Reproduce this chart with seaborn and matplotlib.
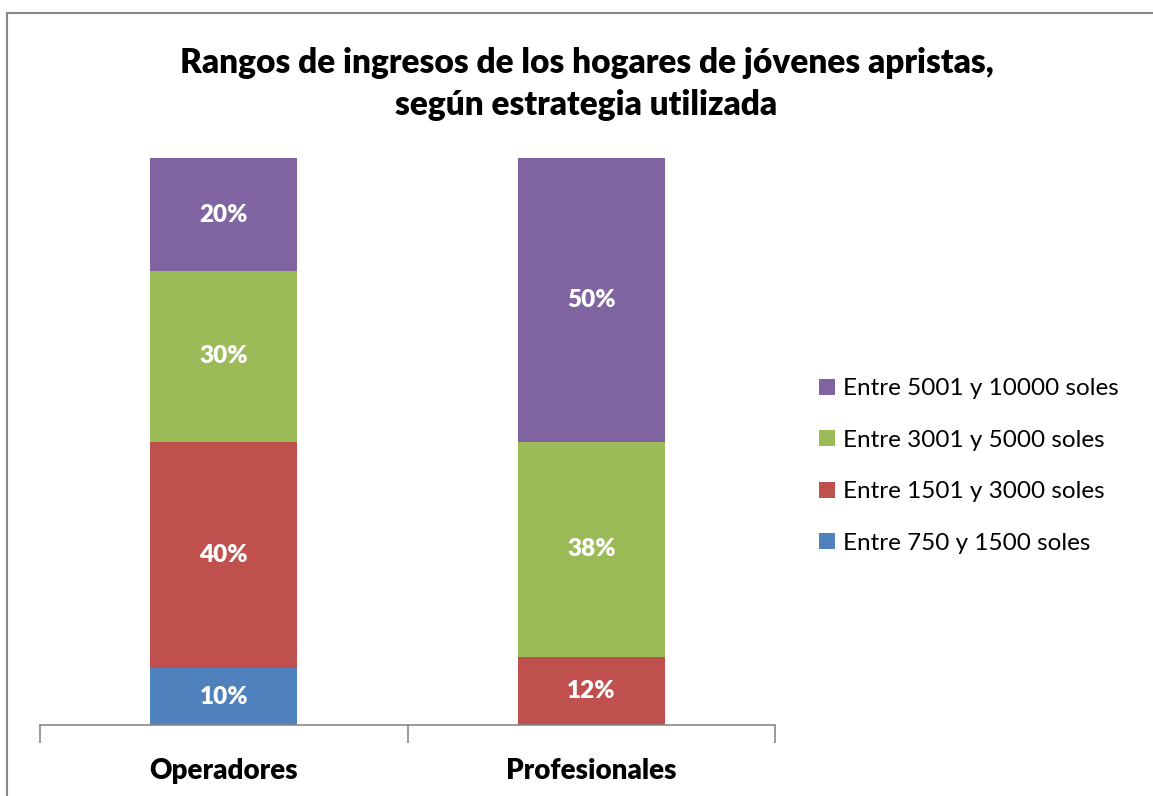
import matplotlib
matplotlib.use("Agg")
import matplotlib.pyplot as plt
import seaborn as sns
import pandas as pd
import numpy as np
from matplotlib.patches import Rectangle, Patch

categories = ["Operadores", "Profesionales"]
series_names = ["Entre 750 y 1500 soles", "Entre 1501 y 3000 soles",
                "Entre 3001 y 5000 soles", "Entre 5001 y 10000 soles"]
v_750_1500 = [10, 0]
v_1501_3000 = [40, 12]
v_3001_5000 = [30, 38]
v_5001_10000 = [20, 50]
colors = ["#4F81BD", "#C0504D", "#9BBB59", "#8064A2"]
title = "Rangos de ingresos de los hogares de jóvenes apristas,\nsegún estrategia utilizada"

series_values = [v_750_1500, v_1501_3000, v_3001_5000, v_5001_10000]

sns.set_theme(style="white")
plt.rcParams['font.family'] = ['Lato', 'DejaVu Sans']
plt.rcParams['text.color'] = 'black'
plt.rcParams['xtick.color'] = 'black'
plt.rcParams['xtick.labelcolor'] = 'black'

fig = plt.figure(figsize=(11.53, 7.96), dpi=100)
fig.patch.set_facecolor("white")
# outer frame
fig.add_artist(Rectangle((7/1153, -0.05), 1.2, 1 - 13/796 + 0.05, transform=fig.transFigure,
                         fill=False, edgecolor="#878787", linewidth=1.5))

ax = fig.add_axes([40/1153, 1 - 725/796, 735/1153, (725 - 158)/796])

bottom = np.zeros(len(categories))
for name, vals, col in zip(series_names, series_values, colors):
    df = pd.DataFrame({"cat": categories, "val": vals})
    sns.barplot(data=df, x="cat", y="val", color=col, width=0.4, bottom=bottom,
                ax=ax, saturation=1, errorbar=None, linewidth=0)
    for i, v in enumerate(vals):
        if v > 0:
            ax.text(i, bottom[i] + v / 2, f"{v}%", ha="center", va="center",
                    color="white", fontsize=17.5, fontweight="heavy")
    bottom = bottom + np.array(vals)

ax.set_xlim(-0.5, 1.5)
ax.set_ylim(0, 100)
ax.set_ylabel("")
ax.set_xlabel("")
ax.set_yticks([])
for s in ["top", "right", "left"]:
    ax.spines[s].set_visible(False)
ax.spines["bottom"].set_color("#878787")
ax.spines["bottom"].set_linewidth(1.2)
ax.set_xticks([-0.5, 0.5, 1.5])
ax.set_xticklabels(["", "", ""])
ax.tick_params(axis="x", which="major", length=13, width=1.2, color="#878787", direction="out", bottom=True)
ax.set_xticks([0, 1], minor=True)
ax.set_xticklabels(categories, minor=True, fontsize=20, fontweight="heavy", color="black")
ax.tick_params(axis="x", which="minor", length=0, pad=24)
ax.set_facecolor("white")

fig.text(0.5 * (168 + 1005) / 1153, 1 - 84/796, title, ha="center", va="center",
         fontsize=24, fontweight="heavy", linespacing=1.35, color="black")

handles = [Patch(facecolor=c, edgecolor="none") for c in colors][::-1]
labels = series_names[::-1]
leg = fig.legend(handles, labels, loc="center left", bbox_to_anchor=(809/1153, 1 - 466/796),
                 frameon=False, fontsize=17.5, handlelength=0.65, handleheight=0.65,
                 handletextpad=0.35, labelspacing=1.25, borderaxespad=0)
for t in leg.get_texts():
    t.set_color("black")

fig.savefig("out.png", dpi=100, facecolor="white")
